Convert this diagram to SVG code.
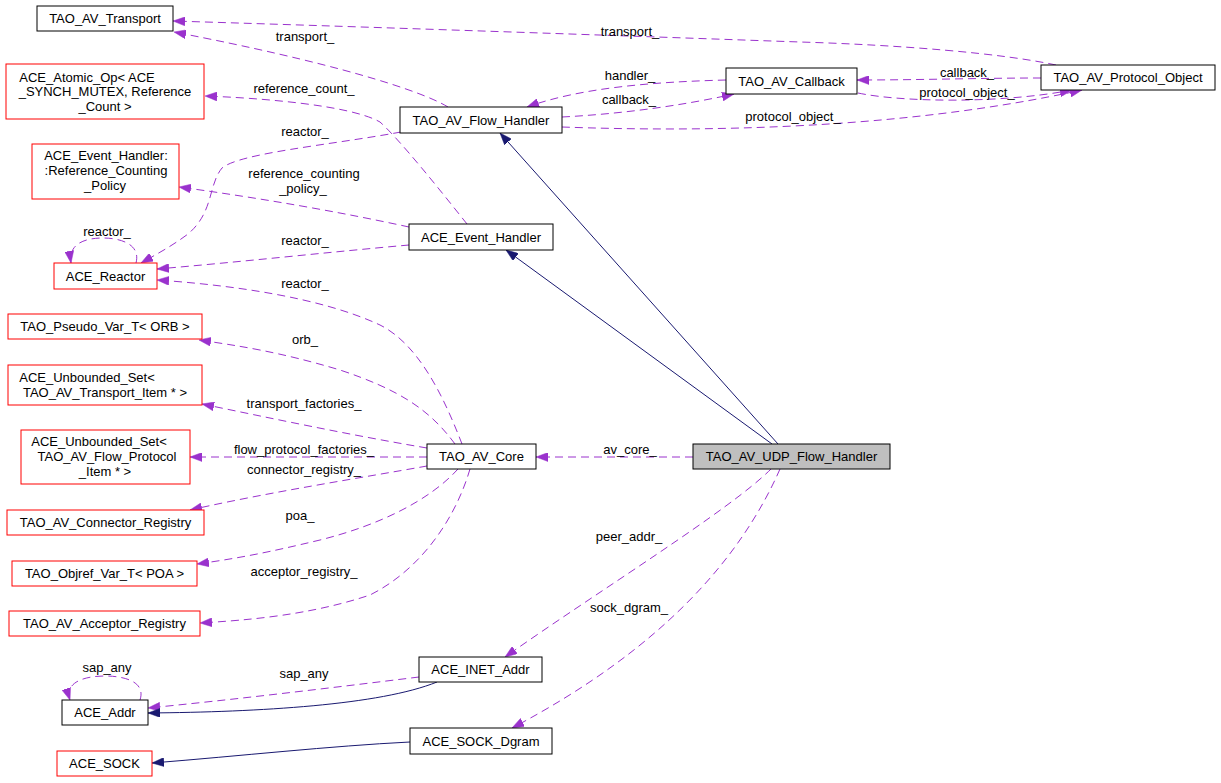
<svg xmlns="http://www.w3.org/2000/svg" width="1221" height="783" viewBox="0 0 1221 783">
<style>
text{font-family:"Liberation Sans",Arial,sans-serif;font-size:13px;fill:#000;text-anchor:middle}
.n{fill:#fff;stroke:#000;stroke-width:1}
.r{fill:#fff;stroke:#ff0000;stroke-width:1}
.g{fill:#bfbfbf;stroke:#000;stroke-width:1}
.d{fill:none;stroke:#9a32cd;stroke-width:1;stroke-dasharray:8,5;marker-end:url(#ap)}
.s{fill:none;stroke:#191970;stroke-width:1;marker-end:url(#an)}
</style>
<defs>
<marker id="ap" viewBox="0 0 12 9" refX="12" refY="4.5" markerWidth="12" markerHeight="9" markerUnits="userSpaceOnUse" orient="auto"><path d="M0,0 L12,4.5 L0,9 z" fill="#9a32cd" stroke="#9a32cd" stroke-width="0.5"/></marker>
<marker id="an" viewBox="0 0 12 9" refX="12" refY="4.5" markerWidth="12" markerHeight="9" markerUnits="userSpaceOnUse" orient="auto"><path d="M0,0 L12,4.5 L0,9 z" fill="#191970" stroke="#191970" stroke-width="0.5"/></marker>
</defs>
<rect width="1221" height="783" fill="#fff"/>
<g id="edges">
<path class="d" d="M1056,65 C1000,53 900,45 800,42 C600,35 400,28 173,21"/>
<path class="d" d="M448,107 C420,90 330,62 174,32"/>
<path class="d" d="M726,80 C650,82 580,88 527,107"/>
<path class="d" d="M562,117 C620,114 680,106 734,94"/>
<path class="d" d="M1041,78 C980,78 920,80 857,80"/>
<path class="d" d="M858,93 C900,102 1000,104 1072,90"/>
<path class="d" d="M562,127 C700,132 900,130 1082,90"/>
<path class="d" d="M401,132 C330,145 240,153 222,168 C208,185 214,212 188,234 C172,246 157,254 141,263"/>
<path class="d" d="M467,224 C440,190 400,140 380,122 C350,105 260,98 205,96"/>
<path class="d" d="M409,227 C340,212 260,198 179,187"/>
<path class="d" d="M409,245 C330,252 240,262 157,269"/>
<path class="d" d="M136,263 C141,244 120,238 103,238 C86,238 68,243 71,263"/>
<path class="d" d="M462,444 C445,400 420,345 380,325 C320,297 230,285 157,280"/>
<path class="d" d="M455,444 C430,410 400,390 340,370 C280,352 240,346 199,340"/>
<path class="d" d="M427,448 C350,435 270,418 202,404"/>
<path class="d" d="M427,457 L190,457"/>
<path class="d" d="M427,466 C360,478 270,492 190,510"/>
<path class="d" d="M458,469 C430,500 380,525 320,540 C270,552 240,558 197,564"/>
<path class="d" d="M470,469 C455,520 420,570 370,595 C310,615 250,620 200,623"/>
<path class="d" d="M693,457 L536,457"/>
<path class="d" d="M771,469 C730,510 600,590 505,657"/>
<path class="d" d="M780,469 C740,560 660,650 512,728"/>
<path class="d" d="M419,677 C330,688 230,700 148,708"/>
<path class="d" d="M140,700 C146,682 125,676 105,676 C85,676 64,682 70,700"/>
<path class="s" d="M437,682 C380,705 260,712 148,713"/>
<path class="s" d="M410,742 C330,746 240,756 152,763"/>
<path class="s" d="M778,444 L500,133"/>
<path class="s" d="M772,444 L506,250"/>
<text x="630" y="36">transport_</text>
<text x="305" y="41">transport_</text>
<text x="630" y="80">handler_</text>
<text x="629" y="104">callback_</text>
<text x="967" y="77">callback_</text>
<text x="967" y="97">protocol_object_</text>
<text x="793" y="121">protocol_object_</text>
<text x="304" y="93">reference_count_</text>
<text x="305" y="136">reactor_</text>
<text x="304" y="178">reference_counting</text>
<text x="303" y="193">_policy_</text>
<text x="305" y="245">reactor_</text>
<text x="107" y="236">reactor_</text>
<text x="305" y="288">reactor_</text>
<text x="305" y="344">orb_</text>
<text x="304" y="408">transport_factories_</text>
<text x="304" y="454">flow_protocol_factories_</text>
<text x="304" y="474">connector_registry_</text>
<text x="300" y="520">poa_</text>
<text x="304" y="576">acceptor_registry_</text>
<text x="630" y="454">av_core_</text>
<text x="629" y="541">peer_addr_</text>
<text x="629" y="612">sock_dgram_</text>
<text x="304" y="678">sap_any</text>
<text x="107" y="672">sap_any</text>
</g>
<g id="n_transport"><rect class="n" x="37" y="6" width="136" height="25"/><text x="105" y="23">TAO_AV_Transport</text></g>
<g id="n_atomic"><rect class="r" x="6" y="64" width="198" height="55"/><text x="87" y="82">ACE_Atomic_Op&lt; ACE</text><text x="105" y="96">_SYNCH_MUTEX, Reference</text><text x="105" y="111">_Count &gt;</text></g>
<g id="n_rcp"><rect class="r" x="32" y="144" width="147" height="55"/><text x="106" y="160">ACE_Event_Handler:</text><text x="106" y="175">:Reference_Counting</text><text x="105" y="190">_Policy</text></g>
<g id="n_reactor"><rect class="r" x="54" y="263" width="103" height="26"/><text x="105.5" y="280.5">ACE_Reactor</text></g>
<g id="n_pseudo"><rect class="r" x="8" y="314" width="194" height="25"/><text x="105" y="331">TAO_Pseudo_Var_T&lt; ORB &gt;</text></g>
<g id="n_unb_transport"><rect class="r" x="8" y="365" width="194" height="40"/><text x="87" y="381.5">ACE_Unbounded_Set&lt;</text><text x="105" y="396.5">TAO_AV_Transport_Item * &gt;</text></g>
<g id="n_unb_flow"><rect class="r" x="21" y="430" width="169" height="54"/><text x="99" y="446">ACE_Unbounded_Set&lt;</text><text x="107" y="461">TAO_AV_Flow_Protocol</text><text x="105" y="476">_Item * &gt;</text></g>
<g id="n_connector"><rect class="r" x="7" y="510" width="197" height="25"/><text x="105.5" y="527">TAO_AV_Connector_Registry</text></g>
<g id="n_objref"><rect class="r" x="12" y="561" width="185" height="25"/><text x="104.5" y="578">TAO_Objref_Var_T&lt; POA &gt;</text></g>
<g id="n_acceptor"><rect class="r" x="9" y="611" width="191" height="25"/><text x="104.5" y="628">TAO_AV_Acceptor_Registry</text></g>
<g id="n_addr"><rect class="n" x="62" y="700" width="86" height="25"/><text x="105" y="717">ACE_Addr</text></g>
<g id="n_sock"><rect class="r" x="57" y="751" width="95" height="25"/><text x="104.5" y="768">ACE_SOCK</text></g>
<g id="n_flow_handler"><rect class="n" x="400" y="107" width="162" height="26"/><text x="481" y="124.5">TAO_AV_Flow_Handler</text></g>
<g id="n_event_handler"><rect class="n" x="409" y="224" width="144" height="26"/><text x="481" y="241.5">ACE_Event_Handler</text></g>
<g id="n_core"><rect class="n" x="427" y="444" width="109" height="25"/><text x="481.5" y="461">TAO_AV_Core</text></g>
<g id="n_udp"><rect class="g" x="693" y="444" width="197" height="25"/><text x="791.5" y="461">TAO_AV_UDP_Flow_Handler</text></g>
<g id="n_inet"><rect class="n" x="419" y="657" width="123" height="25"/><text x="480.5" y="674">ACE_INET_Addr</text></g>
<g id="n_dgram"><rect class="n" x="410" y="728" width="142" height="26"/><text x="481" y="745.5">ACE_SOCK_Dgram</text></g>
<g id="n_callback"><rect class="n" x="726" y="68" width="131" height="26"/><text x="791.5" y="85.5">TAO_AV_Callback</text></g>
<g id="n_protocol"><rect class="n" x="1041" y="65" width="174" height="25"/><text x="1128" y="82">TAO_AV_Protocol_Object</text></g>
</svg>
